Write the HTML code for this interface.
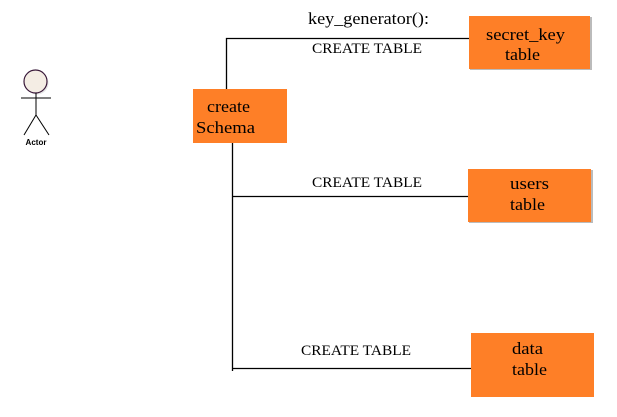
<!DOCTYPE html>
<html><head><style>
body{margin:0;background:#fff;}
svg{display:block;}
</style></head><body>
<svg width="617" height="417" xmlns="http://www.w3.org/2000/svg" font-family="Liberation Serif, serif">
<rect width="617" height="417" fill="#fff"/>
<circle cx="37" cy="83" r="11.5" fill="#ccc" opacity="0.5"/>
<circle cx="35.5" cy="81.5" r="11.5" fill="#f4ede4" stroke="#3a1a3a" stroke-width="1.2"/>
<g stroke="#000" stroke-width="1" fill="none">
<line x1="21" y1="98" x2="51" y2="98"/>
<line x1="36" y1="93" x2="36" y2="115"/>
<line x1="36" y1="115" x2="24" y2="135"/>
<line x1="36" y1="115" x2="49" y2="135"/>
</g>
<text x="36" y="145" font-family="Liberation Sans, sans-serif" font-size="8" font-weight="bold" text-anchor="middle">Actor</text>
<g stroke="#000" stroke-width="1.3" fill="none">
<polyline points="226.5,89 226.5,38.5 470,38.5"/>
<line x1="232.5" y1="143" x2="232.5" y2="371"/>
<line x1="232" y1="196.5" x2="469" y2="196.5"/>
<line x1="232" y1="368.5" x2="472" y2="368.5"/>
</g>
<rect x="193" y="89" width="94" height="54" fill="#fe7f27"/>
<rect x="470" y="17" width="122" height="53" fill="#bbb"/>
<rect x="469" y="16" width="121" height="53" fill="#fe7f27"/>
<rect x="469" y="170" width="124" height="53" fill="#bbb"/>
<rect x="468" y="169" width="123" height="53" fill="#fe7f27"/>
<rect x="471" y="333" width="123" height="64" fill="#fe7f27"/>
<g font-size="17" fill="#000">
<text x="207" y="112" textLength="43" lengthAdjust="spacingAndGlyphs">create</text>
<text x="196" y="133" textLength="59" lengthAdjust="spacingAndGlyphs">Schema</text>
<text x="486" y="40" textLength="79" lengthAdjust="spacingAndGlyphs">secret_key</text>
<text x="505" y="60" textLength="35" lengthAdjust="spacingAndGlyphs">table</text>
<text x="510" y="189" textLength="39" lengthAdjust="spacingAndGlyphs">users</text>
<text x="510" y="210" textLength="35" lengthAdjust="spacingAndGlyphs">table</text>
<text x="512" y="354" textLength="31" lengthAdjust="spacingAndGlyphs">data</text>
<text x="512" y="375" textLength="35" lengthAdjust="spacingAndGlyphs">table</text>
<text x="308" y="24" textLength="121" lengthAdjust="spacingAndGlyphs">key_generator():</text>
</g>
<g font-size="14.5" fill="#000">
<text x="312" y="53" textLength="110" lengthAdjust="spacingAndGlyphs">CREATE TABLE</text>
<text x="312" y="187" textLength="110" lengthAdjust="spacingAndGlyphs">CREATE TABLE</text>
<text x="301" y="355" textLength="110" lengthAdjust="spacingAndGlyphs">CREATE TABLE</text>
</g>
</svg>
</body></html>
